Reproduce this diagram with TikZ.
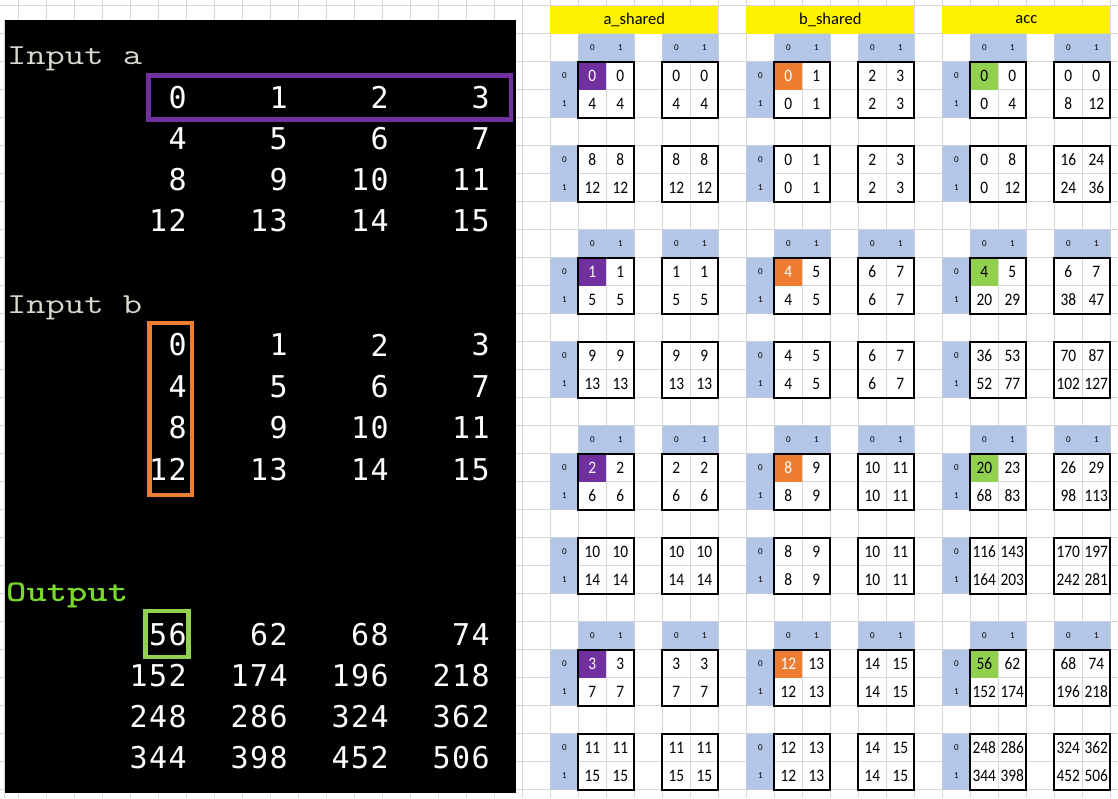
\documentclass[tikz,border=0pt]{standalone}
\usepackage{fontspec}
\setmainfont{Carlito}
\newfontfamily\termfont{DejaVu Sans Mono}[LetterSpace=5]
\definecolor{gridgray}{HTML}{D6D6D6}
\definecolor{idxblue}{HTML}{B4C6E7}
\definecolor{apurple}{HTML}{7030A0}
\definecolor{borange}{HTML}{ED7D31}
\definecolor{cgreen}{HTML}{92D050}
\definecolor{termgray}{HTML}{D8D8CE}
\definecolor{termgreen}{HTML}{79D62B}
\tikzset{
  gridline/.style={draw=gridgray, line width=1pt},
  cell/.style={font=\fontsize{17.5}{18}\selectfont, inner sep=0pt},
  idx/.style={font=\fontsize{9}{9}\selectfont, inner sep=0pt},
  tileframe/.style={draw=black, line width=2pt},
  title/.style={font=\fontsize{16.5}{17}\selectfont, inner sep=0pt},
  termnum/.style={font=\termfont\fontsize{30}{30}\selectfont, text=white, anchor=east, inner sep=0pt},
  termlabel/.style={font=\ttfamily\fontsize{29}{29}\selectfont, anchor=base west, inner sep=0pt},
  hilite/.style={line width=4.5pt}
}
% terminal caption, widened like Courier
\newcommand{\wide}[1]{\scalebox{1.29}[1]{#1}}
% sheet digits are a little condensed
\newcommand{\narrow}[1]{\scalebox{0.88}[1]{#1}}
% one 2x2 tile: column, row, four values
\newcommand{\tile}[7][]{%
  \node[cell,#1] (t#2-#3a) at (#2+0.5,#3+0.5) {\narrow{#4}};
  \node[cell] (t#2-#3b) at (#2+1.5,#3+0.5) {\narrow{#5}};
  \node[cell] (t#2-#3c) at (#2+0.5,#3+1.5) {\narrow{#6}};
  \node[cell] (t#2-#3d) at (#2+1.5,#3+1.5) {\narrow{#7}};
  \draw[tileframe] (#2,#3) rectangle ++(2,2);
}
% header and index cells of one panel: label column, title
\newcommand{\panel}[2]{%
  \fill[yellow] (#1,0) rectangle ++(6,1);
  \node[title] (h#1) at (#1+3,0.5) {#2};
  \foreach \k in {0,...,3}{
    \pgfmathtruncatemacro{\ra}{1+7*\k}
    \fill[idxblue] (#1+1,\ra) rectangle ++(2,1) (#1+4,\ra) rectangle ++(2,1)
      (#1,\ra+1) rectangle ++(1,2) (#1,\ra+4) rectangle ++(1,2);
    \foreach \dx/\dy/\lab in {1/0/0,2/0/1,4/0/0,5/0/1,0/1/0,0/2/1,0/4/0,0/5/1}
      \node[idx] (i#1-\ra-\dx-\dy) at (#1+\dx+0.5,\ra+\dy+0.5) {\lab};
  }
}

\begin{document}
\begin{tikzpicture}[x=1pt, y=-1pt]
\useasboundingbox (0,0) rectangle (1118,798);
\fill[white] (0,0) rectangle (1118,798);

% sheet grid
\foreach \i in {0,...,39}
  \draw[gridline] ({18.3+28*\i},0) -- ++(0,798);
\foreach \i in {0,...,28}
  \draw[gridline] (0,{5.5+28*\i}) -- ++(1118,0);

% terminal
\fill (5,20) rectangle (516,793);
\draw[gridline] (4.5,20) -- (4.5,798);
\node[termlabel, text=termgray] (labela) at (7,64.3) {\wide{Input a}};
\node[termlabel, text=termgray] (labelb) at (7,313.3) {\wide{Input b}};
\node[termlabel, text=termgreen, font=\ttfamily\bfseries\fontsize{30}{30}\selectfont] (labelout) at (6,601.7) {\wide{Output}};
\foreach \row in {0,...,3}
  \foreach \col in {0,...,3}{
    \pgfmathtruncatemacro{\val}{4*\row+\col}
    \node[termnum] (a\row\col) at (187+101*\col,97.5+41*\row) {\val};
    \node[termnum] (b\row\col) at (187+101*\col,345+41.5*\row) {\val};
  }
\foreach \val [count=\n from 0] in {56,62,68,74,152,174,196,218,248,286,324,362,344,398,452,506}{
  \pgfmathtruncatemacro{\row}{\n/4}
  \pgfmathtruncatemacro{\col}{mod(\n,4)}
  \node[termnum] (o\row\col) at (187+101*\col,634.5+41*\row) {\val};
}
\draw[apurple, hilite] (148.5,75.5) rectangle (511,119.5);
\draw[borange, hilite] (149.7,323) rectangle (192,495);
\draw[cgreen, hilite] (145.5,611) rectangle (188.5,657);

% sheet
\begin{scope}[shift={(18.3,5.5)}, x=28pt, y=-28pt]
\panel{19}{a\_shared}
\panel{26}{b\_shared}
\panel{33}{acc}
\foreach \k in {0,...,3}{
  \pgfmathtruncatemacro{\ra}{2+7*\k}
  \pgfmathtruncatemacro{\rb}{5+7*\k}
  \pgfmathtruncatemacro{\va}{\k+4}
  \pgfmathtruncatemacro{\vb}{\k+8}
  \pgfmathtruncatemacro{\vc}{\k+12}
  \fill[apurple] (20,\ra) rectangle ++(1,1);
  \tile[text=white]{20}{\ra}{\k}{\k}{\va}{\va}
  \tile{23}{\ra}{\k}{\k}{\va}{\va}
  \tile{20}{\rb}{\vb}{\vb}{\vc}{\vc}
  \tile{23}{\rb}{\vb}{\vb}{\vc}{\vc}
  \pgfmathtruncatemacro{\va}{4*\k}
  \pgfmathtruncatemacro{\vb}{4*\k+1}
  \pgfmathtruncatemacro{\vc}{4*\k+2}
  \pgfmathtruncatemacro{\vd}{4*\k+3}
  \fill[borange] (27,\ra) rectangle ++(1,1);
  \tile[text=white]{27}{\ra}{\va}{\vb}{\va}{\vb}
  \tile{30}{\ra}{\vc}{\vd}{\vc}{\vd}
  \tile{27}{\rb}{\va}{\vb}{\va}{\vb}
  \tile{30}{\rb}{\vc}{\vd}{\vc}{\vd}
  \fill[cgreen] (34,\ra) rectangle ++(1,1);
}
\tile{34}{2}{0}{0}{0}{4}
\tile{37}{2}{0}{0}{8}{12}
\tile{34}{5}{0}{8}{0}{12}
\tile{37}{5}{16}{24}{24}{36}
\tile{34}{9}{4}{5}{20}{29}
\tile{37}{9}{6}{7}{38}{47}
\tile{34}{12}{36}{53}{52}{77}
\tile{37}{12}{70}{87}{102}{127}
\tile{34}{16}{20}{23}{68}{83}
\tile{37}{16}{26}{29}{98}{113}
\tile{34}{19}{116}{143}{164}{203}
\tile{37}{19}{170}{197}{242}{281}
\tile{34}{23}{56}{62}{152}{174}
\tile{37}{23}{68}{74}{196}{218}
\tile{34}{26}{248}{286}{344}{398}
\tile{37}{26}{324}{362}{452}{506}
\end{scope}
\end{tikzpicture}
\end{document}
